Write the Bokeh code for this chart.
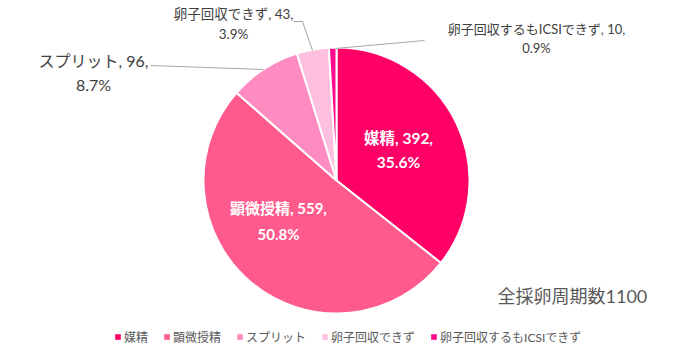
import math
from bokeh.plotting import figure
from bokeh.models import ColumnDataSource, Range1d, Legend, LegendItem
from bokeh.core.properties import value
from bokeh.embed import file_html
from bokeh.resources import INLINE

categories = ["媒精", "顕微授精", "スプリット", "卵子回収できず", "卵子回収するもICSIできず"]
counts = [392, 559, 96, 43, 10]
colors = ["#FF0066", "#FF5A8C", "#FF8CC0", "#FFC0DF", "#FF0A8C"]
total_label = "全採卵周期数"
total = sum(counts)

W, H = 676, 348
FONT = "Lato, 'Noto Sans CJK JP', sans-serif"

p = figure(width=W, height=H, output_backend="svg", toolbar_location=None,
           x_range=Range1d(0, W), y_range=Range1d(0, H), min_border=0)
p.axis.visible = False
p.grid.visible = False
p.outline_line_color = None
p.background_fill_color = "white"

cx, cy, r = 336, H - 180, 133

starts, ends = [], []
cum = 0.0
for c in counts:
    a0 = cum / total
    cum += c
    a1 = cum / total
    # clockwise from top
    starts.append(math.pi / 2 - a1 * 2 * math.pi)
    ends.append(math.pi / 2 - a0 * 2 * math.pi)

src = ColumnDataSource(dict(x=[cx] * len(counts), y=[cy] * len(counts),
                            start=starts, end=ends, color=colors, cat=categories))
p.wedge(x="x", y="y", radius=r, start_angle="start", end_angle="end",
        fill_color="color", line_color="white", line_width=2, source=src)

pcts = [f"{100 * c / total:.1f}%" for c in counts]
line1 = [f"{cat}, {c}," for cat, c in zip(categories, counts)]

# label positions (px from top)
lab = [
    dict(x=398, y1=137, y2=161, size="15.5px", color="white", style="bold"),
    dict(x=278, y1=207, y2=233, size="15px", color="white", style="bold"),
    dict(x=93, y1=60, y2=84, size="16px", color="#404040", style="normal"),
    dict(x=233, y1=13, y2=33, size="13.5px", color="#404040", style="normal"),
    dict(x=536, y1=28, y2=47, size="13px", color="#404040", style="normal"),
]
for i, L in enumerate(lab):
    for txt, yy in ((line1[i], L["y1"]), (pcts[i], L["y2"])):
        p.text(x=[L["x"]], y=[H - yy], text=[txt], text_align="center",
               text_baseline="middle", text_color=L["color"],
               text_font=value(FONT), text_font_size=L["size"],
               text_font_style=L["style"])

# leader lines
p.line(x=[150, 263], y=[H - 65, H - 69], line_color="#A6A6A6", line_width=1)
p.line(x=[293, 302, 312], y=[H - 21, H - 21, H - 50], line_color="#A6A6A6", line_width=1)
p.line(x=[335, 424], y=[H - 48, H - 40], line_color="#A6A6A6", line_width=1)

# total text
p.text(x=[497], y=[H - 295], text=[f"{total_label}{total}"], text_align="left",
       text_baseline="middle", text_color="#595959", text_font=value(FONT),
       text_font_size="18px")

# legend
items = []
for cat, col in zip(categories, colors):
    rr = p.quad(left=[-60], right=[-50], bottom=[-60], top=[-50],
                fill_color=col, line_color=None)
    items.append(LegendItem(label=cat, renderers=[rr]))
legend = Legend(items=items, orientation="horizontal", location=(114, 3),
                glyph_width=7, glyph_height=7, label_standoff=3, spacing=15,
                padding=0, margin=0, border_line_color=None,
                background_fill_alpha=0, label_text_font=FONT,
                label_text_font_size="12px", label_text_color="#595959",
                label_height=14)
p.add_layout(legend, "center")

open("out.html", "w").write(file_html(p, INLINE))
